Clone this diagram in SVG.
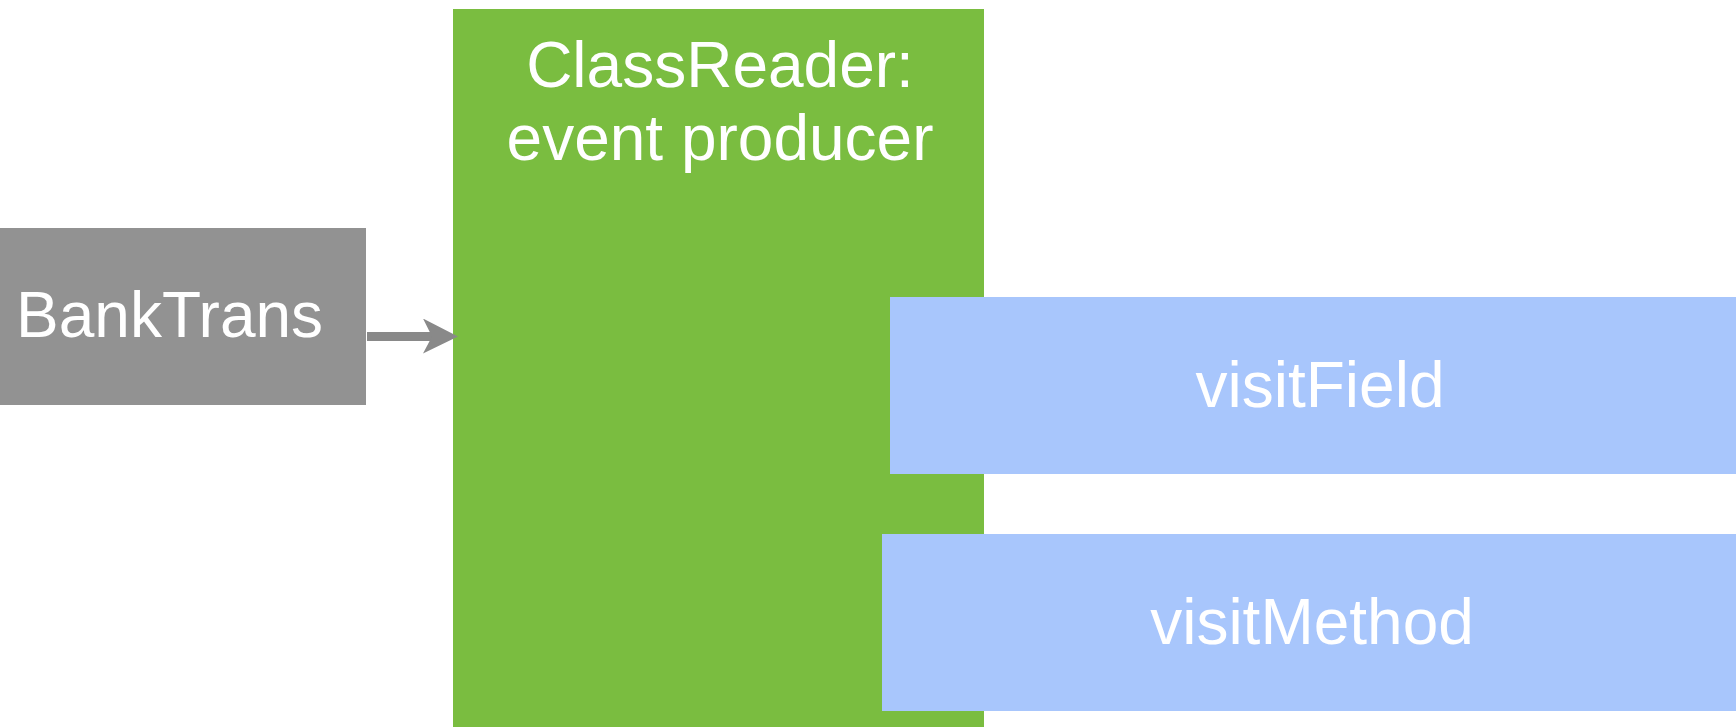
<svg xmlns="http://www.w3.org/2000/svg" width="1736" height="727" viewBox="0 0 1736 727">
  <style>
    .lbl { font-family: "Liberation Sans", Arial, Helvetica, sans-serif; font-size: 64px; fill: #ffffff; }
    .conn { stroke: #898989; stroke-width: 9; fill: none; }
  </style>
  <defs>
    <marker id="head" markerUnits="userSpaceOnUse" markerWidth="36" markerHeight="36" refX="17" refY="18" orient="auto" viewBox="0 0 36 36">
      <path d="M0,0 L35,18 L0,35 L9,18 Z" fill="#898989"/>
    </marker>
  </defs>
  <rect width="1736" height="727" fill="#ffffff"/>
  <g id="node-banktrans">
    <rect x="-30" y="228" width="396" height="177" fill="#929292"/>
    <text class="lbl" x="16" y="337">BankTrans</text>
  </g>
  <g id="node-classreader">
    <rect x="453" y="9" width="531" height="730" fill="#7abd40"/>
    <text class="lbl" x="720" y="87" text-anchor="middle">ClassReader:</text>
    <text class="lbl" x="720" y="160" text-anchor="middle">event producer</text>
  </g>
  <g id="node-visitfield">
    <rect x="890" y="297" width="860" height="177" fill="#a8c6fc"/>
    <text class="lbl" x="1320" y="407" text-anchor="middle">visitField</text>
  </g>
  <g id="node-visitmethod">
    <rect x="882" y="534" width="860" height="177" fill="#a8c6fc"/>
    <text class="lbl" x="1312" y="644" text-anchor="middle">visitMethod</text>
  </g>
  <g id="connectors">
    <line class="conn" x1="367" y1="336.5" x2="440" y2="336.5" marker-end="url(#head)"/>
  </g>
</svg>
